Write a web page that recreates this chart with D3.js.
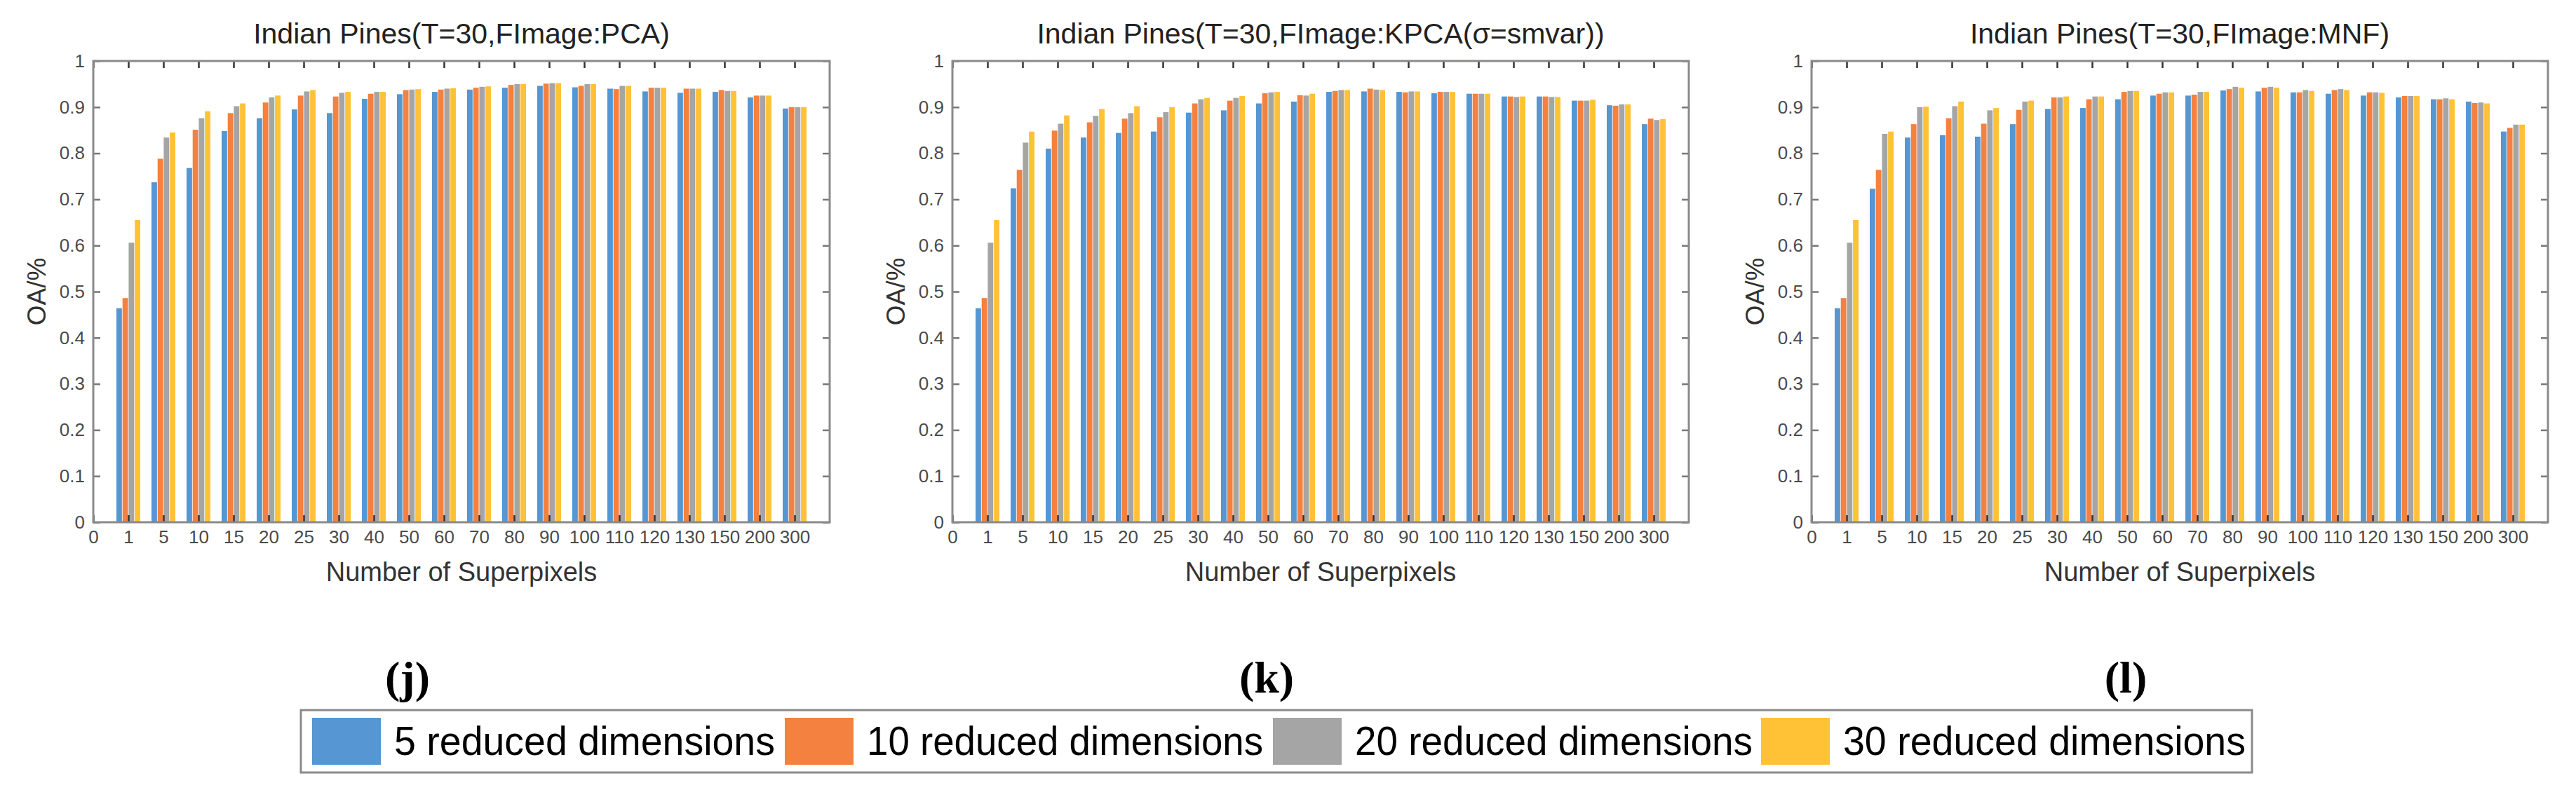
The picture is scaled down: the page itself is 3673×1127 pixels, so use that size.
<!DOCTYPE html>
<html><head><meta charset="utf-8">
<script src="https://cdn.jsdelivr.net/npm/d3@7"></script>
<style>html,body{margin:0;padding:0;background:#fff;} svg{display:block;}</style>
</head><body>
<script>
// ---- data ----
const categories = ["1","5","10","15","20","25","30","40","50","60","70","80","90","100","110","120","130","150","200","300"];
const tickLabels = ["0"].concat(categories);
const yTicks = [0,0.1,0.2,0.3,0.4,0.5,0.6,0.7,0.8,0.9,1];
const seriesNames = ["5 reduced dimensions","10 reduced dimensions","20 reduced dimensions","30 reduced dimensions"];
const titles = ["Indian Pines(T=30,FImage:PCA)","Indian Pines(T=30,FImage:KPCA(\u03c3=smvar))","Indian Pines(T=30,FImage:MNF)"];
const panelLabels = ["j","k","l"];

const pca5  = [0.464,0.737,0.768,0.848,0.876,0.895,0.887,0.918,0.928,0.933,0.938,0.942,0.946,0.943,0.940,0.934,0.931,0.933,0.921,0.897];
const pca10 = [0.486,0.788,0.851,0.887,0.910,0.925,0.923,0.929,0.937,0.938,0.942,0.948,0.951,0.946,0.939,0.942,0.940,0.937,0.925,0.900];
const pca20 = [0.606,0.834,0.876,0.902,0.921,0.934,0.931,0.933,0.938,0.940,0.944,0.950,0.952,0.950,0.946,0.942,0.940,0.935,0.925,0.900];
const pca30 = [0.655,0.845,0.891,0.908,0.925,0.937,0.933,0.933,0.939,0.941,0.945,0.950,0.952,0.950,0.946,0.942,0.940,0.935,0.925,0.900];

const kpca5  = [0.464,0.724,0.810,0.834,0.844,0.847,0.888,0.893,0.908,0.912,0.933,0.934,0.933,0.930,0.929,0.923,0.923,0.914,0.904,0.863];
const kpca10 = [0.486,0.764,0.849,0.867,0.875,0.878,0.908,0.914,0.930,0.926,0.935,0.940,0.932,0.933,0.929,0.923,0.923,0.914,0.903,0.875];
const kpca20 = [0.606,0.823,0.864,0.881,0.887,0.889,0.917,0.920,0.932,0.925,0.937,0.938,0.934,0.933,0.929,0.922,0.922,0.914,0.906,0.872];
const kpca30 = [0.655,0.847,0.882,0.896,0.902,0.900,0.920,0.924,0.933,0.929,0.937,0.937,0.934,0.933,0.929,0.923,0.922,0.916,0.906,0.874];

const mnf5  = [0.464,0.723,0.834,0.839,0.836,0.863,0.896,0.898,0.917,0.925,0.925,0.936,0.934,0.932,0.929,0.925,0.921,0.917,0.912,0.847];
const mnf10 = [0.486,0.764,0.863,0.876,0.864,0.894,0.921,0.917,0.933,0.929,0.927,0.939,0.942,0.932,0.937,0.932,0.924,0.917,0.909,0.855];
const mnf20 = [0.606,0.842,0.900,0.902,0.893,0.912,0.921,0.923,0.935,0.932,0.933,0.944,0.944,0.937,0.939,0.932,0.924,0.919,0.910,0.862];
const mnf30 = [0.655,0.847,0.901,0.912,0.898,0.914,0.923,0.923,0.935,0.932,0.933,0.942,0.942,0.935,0.937,0.931,0.924,0.917,0.908,0.862];

const panels = [[pca5,pca10,pca20,pca30],[kpca5,kpca10,kpca20,kpca30],[mnf5,mnf10,mnf20,mnf30]];
const colors = ["#5596d3","#f4813f","#a5a5a5","#ffc236"];

// ---- layout ----
const W = 3673, H = 1127;
const panelLeft = [133, 1358, 2583];
const PW = 1050, TOP = 87, BOT = 745;
const sans = "'Liberation Sans', Arial, Helvetica, sans-serif";

const svg = d3.select("body").append("svg").attr("width", W).attr("height", H)
  .style("font-family", sans);
svg.append("rect").attr("width", W).attr("height", H).attr("fill", "#fff");

panels.forEach((data, p) => {
  const L = panelLeft[p];
  const x = d3.scaleLinear().domain([0, 21]).range([L, L + PW]);
  const y = d3.scaleLinear().domain([0, 1]).range([BOT, TOP]);
  const inner = d3.scaleBand().domain(d3.range(4)).range([-17, 17]).paddingInner(0.1);
  const g = svg.append("g");

  // bars
  data.forEach((vals, s) => {
    g.append("g").selectAll("rect").data(vals).join("rect")
      .attr("x", (d, i) => x(i + 1) + inner(s))
      .attr("width", inner.bandwidth())
      .attr("y", d => y(d))
      .attr("height", d => y(0) - y(d))
      .attr("fill", colors[s]);
  });

  // axes
  const yl = g.append("g").attr("transform", `translate(${L},0)`)
    .call(d3.axisLeft(y).tickValues(yTicks).tickSizeInner(-10).tickSizeOuter(0).tickPadding(12)
      .tickFormat(d => d === 0 ? "0" : d === 1 ? "1" : d3.format(".1f")(d)));
  const yr = g.append("g").attr("transform", `translate(${L + PW},0)`)
    .call(d3.axisRight(y).tickValues(yTicks).tickSizeInner(-10).tickSizeOuter(0).tickFormat(""));
  const xb = g.append("g").attr("transform", `translate(0,${BOT})`)
    .call(d3.axisBottom(x).tickValues(d3.range(21)).tickSizeInner(-10).tickSizeOuter(0).tickPadding(12)
      .tickFormat(i => tickLabels[i]));
  const xt = g.append("g").attr("transform", `translate(0,${TOP})`)
    .call(d3.axisTop(x).tickValues(d3.range(21)).tickSizeInner(-10).tickSizeOuter(0).tickFormat(""));
  [yl, yr, xb, xt].forEach(a => {
    a.select(".domain").remove();
    a.selectAll("text").attr("font-size", 26).attr("fill", "#4a4a4a").attr("font-family", sans);
  });
  [yl, yr].forEach(a => a.selectAll("line").attr("stroke", "#777").attr("stroke-width", 2.5));
  [xb, xt].forEach(a => a.selectAll("line").attr("stroke", "#333").attr("stroke-width", 2.5));

  // frame
  g.append("rect").attr("x", L).attr("y", TOP).attr("width", PW).attr("height", BOT - TOP)
    .attr("fill", "none").attr("stroke", "#8a8a8a").attr("stroke-width", 3);

  // title
  g.append("text").attr("x", L + PW / 2).attr("y", 62).attr("text-anchor", "middle")
    .attr("font-size", 41).attr("fill", "#222").text(titles[p]);
  // x title
  g.append("text").attr("x", L + PW / 2).attr("y", 829).attr("text-anchor", "middle")
    .attr("font-size", 38).attr("fill", "#333").text("Number of Superpixels");
  // y title
  g.append("text").attr("transform", `translate(${L - 68},${(TOP + BOT) / 2}) rotate(-90)`)
    .attr("text-anchor", "middle").attr("font-size", 37).attr("fill", "#333").text("OA/%");
  // panel label
  g.append("text").attr("x", L + PW / 2 - 77).attr("y", 988).attr("text-anchor", "middle")
    .attr("font-family", "'Liberation Serif', 'Times New Roman', serif").attr("font-weight", "bold")
    .attr("font-size", 64).attr("fill", "#000").text(`(${panelLabels[p]})`);
});

// legend
const legendSwatchX = [445, 1119, 1815, 2511];
const legendTextW = [543, 565, 567, 574];
const lg = svg.append("g");
lg.append("rect").attr("x", 429).attr("y", 1013).attr("width", 2782).attr("height", 89)
  .attr("fill", "#fff").attr("stroke", "#8a8a8a").attr("stroke-width", 3);
seriesNames.forEach((name, i) => {
  const sx = legendSwatchX[i];
  lg.append("rect").attr("x", sx).attr("y", 1024).attr("width", 98).attr("height", 67).attr("fill", colors[i]);
  lg.append("text").attr("x", sx + 117).attr("y", 1077).attr("font-size", 58)
    .attr("textLength", legendTextW[i]).attr("lengthAdjust", "spacingAndGlyphs")
    .attr("fill", "#000").text(name);
});
</script>
</body></html>
